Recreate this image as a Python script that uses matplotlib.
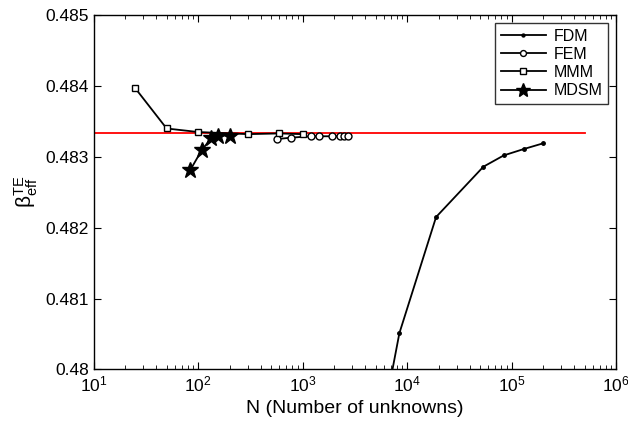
import matplotlib.pyplot as plt
from matplotlib.ticker import FormatStrFormatter

plt.rcParams['font.family'] = ['Liberation Sans', 'DejaVu Sans']
plt.rcParams['mathtext.fontset'] = 'custom'
plt.rcParams['mathtext.rm'] = 'Liberation Sans'
plt.rcParams['mathtext.it'] = 'Liberation Sans'
plt.rcParams['mathtext.default'] = 'regular'

# reference value
ref_x = [10, 5e5]
ref_y = [0.48334, 0.48334]

fdm_n = [2000, 4200, 8440, 18950, 53700, 84200, 131000, 200000]
fdm_b = [0.4740, 0.47816, 0.48051, 0.48215, 0.48286, 0.48302, 0.48311, 0.48319]

fem_n = [566, 771, 1197, 1448, 1903, 2285, 2500, 2740]
fem_b = [0.48325, 0.48327, 0.48329, 0.48329, 0.48329, 0.48329, 0.48329, 0.48329]

mmm_n = [25, 50, 100, 300, 600, 1000]
mmm_b = [0.48397, 0.48340, 0.48335, 0.48332, 0.48333, 0.48332]

mdsm_n = [84, 108, 133, 156, 202]
mdsm_b = [0.48281, 0.48309, 0.48326, 0.48330, 0.48330]

fig = plt.figure(figsize=(6.28, 4.32), dpi=100)
ax = fig.add_axes([0.149, 0.145, 0.832, 0.820])

ax.plot(ref_x, ref_y, color='red', lw=1.3)
ax.plot(fdm_n, fdm_b, 'k-', marker='.', ms=5, lw=1.3, label='FDM')
ax.plot(fem_n, fem_b, 'k-', marker='o', ms=5, mfc='white', mew=1, lw=1.3, label='FEM')
ax.plot(mmm_n, mmm_b, 'k-', marker='s', ms=4.5, mfc='white', mew=1, lw=1.3, label='MMM')
ax.plot(mdsm_n, mdsm_b, 'k-', marker='*', ms=12, lw=1.3, label='MDSM')

ax.set_xscale('log')
ax.set_xlim(10, 1e6)
ax.set_ylim(0.48, 0.485)
ax.set_yticks([0.48, 0.481, 0.482, 0.483, 0.484, 0.485])
ax.yaxis.set_major_formatter(FormatStrFormatter('%g'))
ax.tick_params(which='both', direction='in', top=True, right=True, labelsize=12.5)
ax.tick_params(which='major', length=5)
ax.tick_params(which='minor', length=3)
for s in ax.spines.values():
    s.set_linewidth(1.0)

ax.set_xlabel('N (Number of unknowns)', fontsize=14)
ax.set_ylabel(r'$\beta_{eff}^{TE}$', fontsize=15)

leg = ax.legend(loc='upper right', fontsize=11.5, fancybox=False, edgecolor='black',
                handlelength=2.8, borderaxespad=0.5, labelspacing=0.2,
                handletextpad=0.5, borderpad=0.35, markerscale=0.85)
leg.get_frame().set_linewidth(1.0)

fig.savefig('out.png', dpi=100)
